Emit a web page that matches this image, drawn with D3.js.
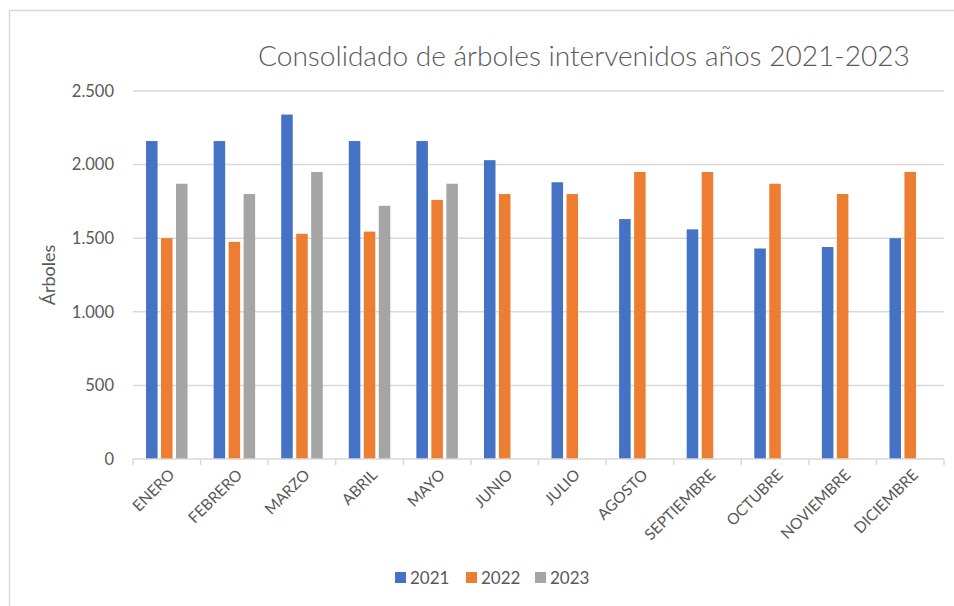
<!DOCTYPE html>
<html>
<head>
<meta charset="utf-8">
<script src="https://cdn.jsdelivr.net/npm/d3@7"></script>
<style>
  body { margin: 0; background: #fff; }
  svg { display: block; font-family: Lato, "Open Sans", sans-serif; }
</style>
</head>
<body>
<svg id="chart" width="954" height="606"></svg>
<script>
const months = ['ENERO', 'FEBRERO', 'MARZO', 'ABRIL', 'MAYO', 'JUNIO',
                'JULIO', 'AGOSTO', 'SEPTIEMBRE', 'OCTUBRE', 'NOVIEMBRE', 'DICIEMBRE'];
const years = ['2021', '2022', '2023'];
const v2021 = [2160, 2160, 2340, 2160, 2160, 2030, 1880, 1630, 1560, 1430, 1440, 1500];
const v2022 = [1500, 1475, 1530, 1545, 1760, 1800, 1800, 1950, 1950, 1870, 1800, 1950];
const v2023 = [1870, 1800, 1950, 1720, 1870, null, null, null, null, null, null, null];
const yTicks = [0, 500, 1000, 1500, 2000, 2500];
const colors = ['#4472C4', '#ED7D31', '#A5A5A5'];

const series = [v2021, v2022, v2023];
const svg = d3.select('svg#chart');
const textCol = '#595959';
const gridCol = '#D9D9D9';

const fmt = d3.formatLocale({ decimal: ',', thousands: '.', grouping: [3], currency: ['', ''] }).format(',');

const m = { left: 133, right: 944, top: 91, bottom: 459 };

// chart frame
svg.append('rect')
  .attr('x', 9.5).attr('y', 10.5)
  .attr('width', 960).attr('height', 620)
  .attr('fill', 'none').attr('stroke', gridCol).attr('stroke-width', 1.5);

const y = d3.scaleLinear().domain([0, 2500]).range([m.bottom, m.top]);
const x0 = d3.scaleBand().domain(months).range([m.left, m.right]).padding(0);
const x1 = d3.scaleBand().domain(years).range([0, x0.bandwidth()])
  .paddingInner(0.23).paddingOuter(0.87);

// gridlines
svg.append('g')
  .selectAll('line')
  .data(yTicks.filter(d => d > 0))
  .join('line')
  .attr('x1', m.left).attr('x2', m.right)
  .attr('y1', d => y(d)).attr('y2', d => y(d))
  .attr('stroke', gridCol).attr('stroke-width', 1.5);

// y labels
svg.append('g')
  .selectAll('text')
  .data(yTicks)
  .join('text')
  .attr('x', 114).attr('y', d => y(d))
  .attr('dy', '0.35em')
  .attr('text-anchor', 'end')
  .attr('fill', textCol)
  .attr('font-size', 16.5)
  .text(d => fmt(d));

// bars
const rows = months.map((mo, i) => ({ month: mo, vals: years.map((yr, j) => ({ yr, j, v: series[j][i] })) }));

svg.append('g')
  .selectAll('g')
  .data(rows)
  .join('g')
  .attr('transform', d => `translate(${x0(d.month)},0)`)
  .selectAll('rect')
  .data(d => d.vals.filter(e => e.v != null))
  .join('rect')
  .attr('x', d => x1(d.yr))
  .attr('width', x1.bandwidth())
  .attr('y', d => y(d.v))
  .attr('height', d => y(0) - y(d.v))
  .attr('fill', d => colors[d.j]);

// x axis
const xAxis = svg.append('g');
xAxis.append('line')
  .attr('x1', m.left).attr('x2', m.right)
  .attr('y1', m.bottom).attr('y2', m.bottom)
  .attr('stroke', gridCol).attr('stroke-width', 1.5);

xAxis.selectAll('line.tick')
  .data(months.map(d => x0(d)).concat([m.right]))
  .join('line')
  .attr('class', 'tick')
  .attr('x1', d => d).attr('x2', d => d)
  .attr('y1', m.bottom).attr('y2', m.bottom + 6)
  .attr('stroke', gridCol).attr('stroke-width', 1.5);

xAxis.selectAll('text')
  .data(months)
  .join('text')
  .attr('transform', d => `translate(${x0(d) + x0.bandwidth() / 2 + 5},${m.bottom + 13}) rotate(-45)`)
  .attr('text-anchor', 'end')
  .attr('dy', '0.35em')
  .attr('fill', textCol)
  .attr('font-size', 15.5)
  .text(d => d);

// y axis title
svg.append('text')
  .attr('transform', 'translate(55,275) rotate(-90)')
  .attr('text-anchor', 'middle')
  .attr('fill', textCol)
  .attr('font-size', 18)
  .text('Árboles');

// title, sized to the reference width
const title = svg.append('text')
  .attr('x', 258).attr('y', 66)
  .attr('fill', textCol)
  .attr('font-size', 26)
  .attr('font-weight', 300)
  .text('Consolidado de árboles intervenidos años 2021-2023');
const tw = title.node().getComputedTextLength();
title.attr('font-size', 26 * 652 / tw);

// legend
const legX = [395, 466, 535];
const leg = svg.append('g')
  .selectAll('g')
  .data(years)
  .join('g')
  .attr('transform', (d, i) => `translate(${legX[i]},578)`);
leg.append('rect')
  .attr('x', 0).attr('y', -6)
  .attr('width', 11).attr('height', 11)
  .attr('fill', (d, i) => colors[i]);
leg.append('text')
  .attr('x', 15).attr('dy', '0.35em')
  .attr('fill', textCol)
  .attr('font-size', 17)
  .text(d => d);
</script>
</body>
</html>
